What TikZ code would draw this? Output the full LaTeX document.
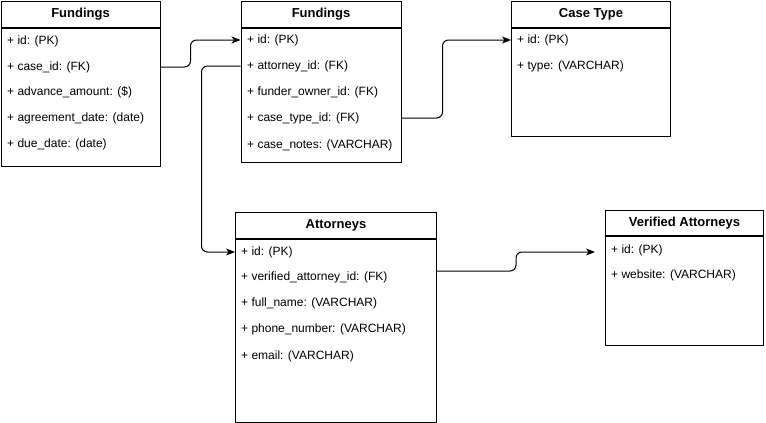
\documentclass[tikz,border=0pt]{standalone}
\usepackage{fontspec}
\setmainfont{Liberation Sans}
\usetikzlibrary{positioning,arrows.meta,calc}

\tikzset{
  tblhead/.style={draw, line width=1pt, anchor=north west, inner sep=0pt, font=\bfseries\fontsize{13}{15}\selectfont},
  tblbody/.style={draw, line width=1pt, inner sep=0pt},
  fld/.style={anchor=west, inner sep=0pt, font=\fontsize{12}{14}\selectfont},
  link/.style={line width=1pt, rounded corners=6pt, -{Stealth[length=9pt,width=7pt,inset=2.5pt]}}
}

\begin{document}
\begin{tikzpicture}[x=1pt, y=-1pt]
  \useasboundingbox (0,0) rectangle (766,423);
  % fundings (left)
  \node[tblhead, minimum width=159, minimum height=26] (fundAh) at (0.5,0.5) {Fundings};
  \node[tblbody, below=0pt of fundAh, minimum width=159, minimum height=138] (fundA) {};
  \node[fld] (fA1) at (7,41) {+ id: (PK)};
  \node[fld] (fA2) at (7,67) {+ case\_id: (FK)};
  \node[fld] (fA3) at (7,92) {+ advance\_amount: (\$)};
  \node[fld] (fA4) at (7,118) {+ agreement\_date: (date)};
  \node[fld] (fA5) at (7,144) {+ due\_date: (date)};
  % fundings (middle)
  \node[tblhead, minimum width=160, minimum height=26] (fundBh) at (240.5,0.5) {Fundings};
  \node[tblbody, below=0pt of fundBh, minimum width=160, minimum height=134] (fundB) {};
  \node[fld] (fB1) at (247,40) {+ id: (PK)};
  \node[fld] (fB2) at (247,66) {+ attorney\_id: (FK)};
  \node[fld] (fB3) at (247,92) {+ funder\_owner\_id: (FK)};
  \node[fld] (fB4) at (247,118) {+ case\_type\_id: (FK)};
  \node[fld] (fB5) at (247,145) {+ case\_notes: (VARCHAR)};
  % case type
  \node[tblhead, minimum width=159, minimum height=26] (ctypeh) at (511,0.5) {Case Type};
  \node[tblbody, below=0pt of ctypeh, minimum width=159, minimum height=108] (ctype) {};
  \node[fld] (ct1) at (517,40) {+ id: (PK)};
  \node[fld] (ct2) at (517,66) {+ type: (VARCHAR)};
  % attorneys
  \node[tblhead, minimum width=201, minimum height=26] (atth) at (235,212) {Attorneys};
  \node[tblbody, below=0pt of atth, minimum width=201, minimum height=183] (att) {};
  \node[fld] (at1) at (241,252) {+ id: (PK)};
  \node[fld] (at2) at (241,277) {+ verified\_attorney\_id: (FK)};
  \node[fld] (at3) at (241,303) {+ full\_name: (VARCHAR)};
  \node[fld] (at4) at (241,329) {+ phone\_number: (VARCHAR)};
  \node[fld] (at5) at (241,356) {+ email: (VARCHAR)};
  % verified attorneys
  \node[tblhead, minimum width=158, minimum height=25] (verh) at (605,210) {Verified Attorneys};
  \node[tblbody, below=0pt of verh, minimum width=158, minimum height=109] (ver) {};
  \node[fld] (ve1) at (611,250) {+ id: (PK)};
  \node[fld] (ve2) at (611,275) {+ website: (VARCHAR)};
  % links
  \draw[link] (fundA.east |- fA2) -- ++(30,0) |- (fundB.west |- fB1);
  \draw[link] (fundB.west |- fB2) -- ++(-39,0) |- (att.west |- at1);
  \draw[link] (fundB.east |- fB4) -- ++(41,0) |- (ctype.west |- ct1);
  \coordinate (vtip) at ($(ver.west |- ve1)+(-10,2)$);
  \draw[link] (att.east |- 0,271) -- ++(79,0) |- (vtip);
\end{tikzpicture}
\end{document}
